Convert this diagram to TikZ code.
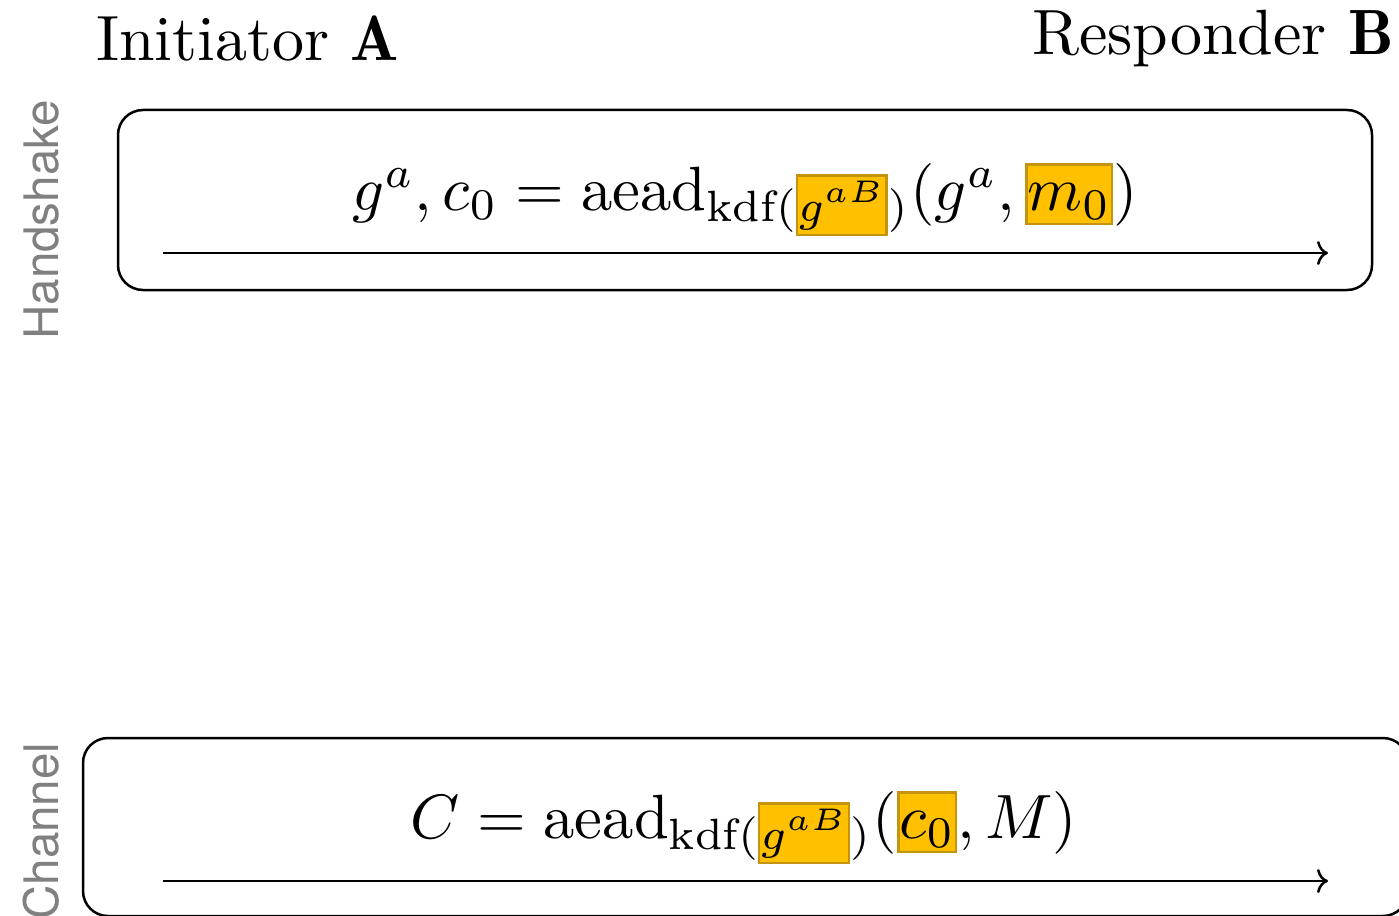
\documentclass[tikz,border=0pt]{standalone}
\usepackage{fontspec}
\usetikzlibrary{arrows.meta}
\newfontfamily\herosfont{TeX Gyre Heros}
\definecolor{hlfill}{RGB}{255,192,0}
\definecolor{hlborder}{RGB}{196,148,14}
\definecolor{lblgray}{RGB}{128,128,128}
\newcommand{\hlbox}[1]{\smash{\setlength{\fboxsep}{0pt}\fcolorbox{hlborder}{hlfill}{\rule[-2pt]{0pt}{9.1pt}$#1$}}}
\begin{document}
\begin{tikzpicture}[x=1pt,y=-1pt,
  txt/.style={scale=6.26, inner sep=0pt},
  who/.style={scale=6.4, inner sep=0pt},
  frame/.style={draw, line width=2.5pt, rounded corners=25pt},
  msg/.style={line width=2.5pt, -{To[length=11pt,width=24pt]}},
  phase/.style={scale=6.26, inner sep=0pt, rotate=90, text=lblgray, font=\herosfont\fontsize{7.6}{9}\selectfont}]
\useasboundingbox (0,0) rectangle (1399,915);
\clip (0,0) rectangle (1399,915);
% participants
\node[who, anchor=base west] (ini) at (95,61) {Initiator $\mathbf{A}$};
\node[who, anchor=base east] (res) at (1395,55) {Responder $\mathbf{B}$};
% phase labels
\node[phase, anchor=base west] (lhs) at (58,341) {Handshake};
\node[phase, anchor=base west] (lch) at (58,921) {Channel};
% frames
\draw[frame] (118,110) rectangle (1372,290);
\draw[frame] (83,738) rectangle (1408,916);
% handshake message
\node[txt, anchor=base] (m1) at (745,210) {$g^a, c_0 = \mathrm{aead}_{\mathrm{kdf}(\hlbox{\scriptstyle g^{aB}})}(g^a, \hlbox{m_0})$};
\coordinate (a1) at (163,253);
\coordinate (b1) at (1328,253);
\draw[msg] (a1) -- (b1);
% channel message
\node[txt, anchor=base] (m2) at (744,838) {$C = \mathrm{aead}_{\mathrm{kdf}(\hlbox{\scriptstyle g^{aB}})}(\hlbox{c_0}, M)$};
\coordinate (a2) at (163,881);
\coordinate (b2) at (1328,881);
\draw[msg] (a2) -- (b2);
\end{tikzpicture}
\end{document}
